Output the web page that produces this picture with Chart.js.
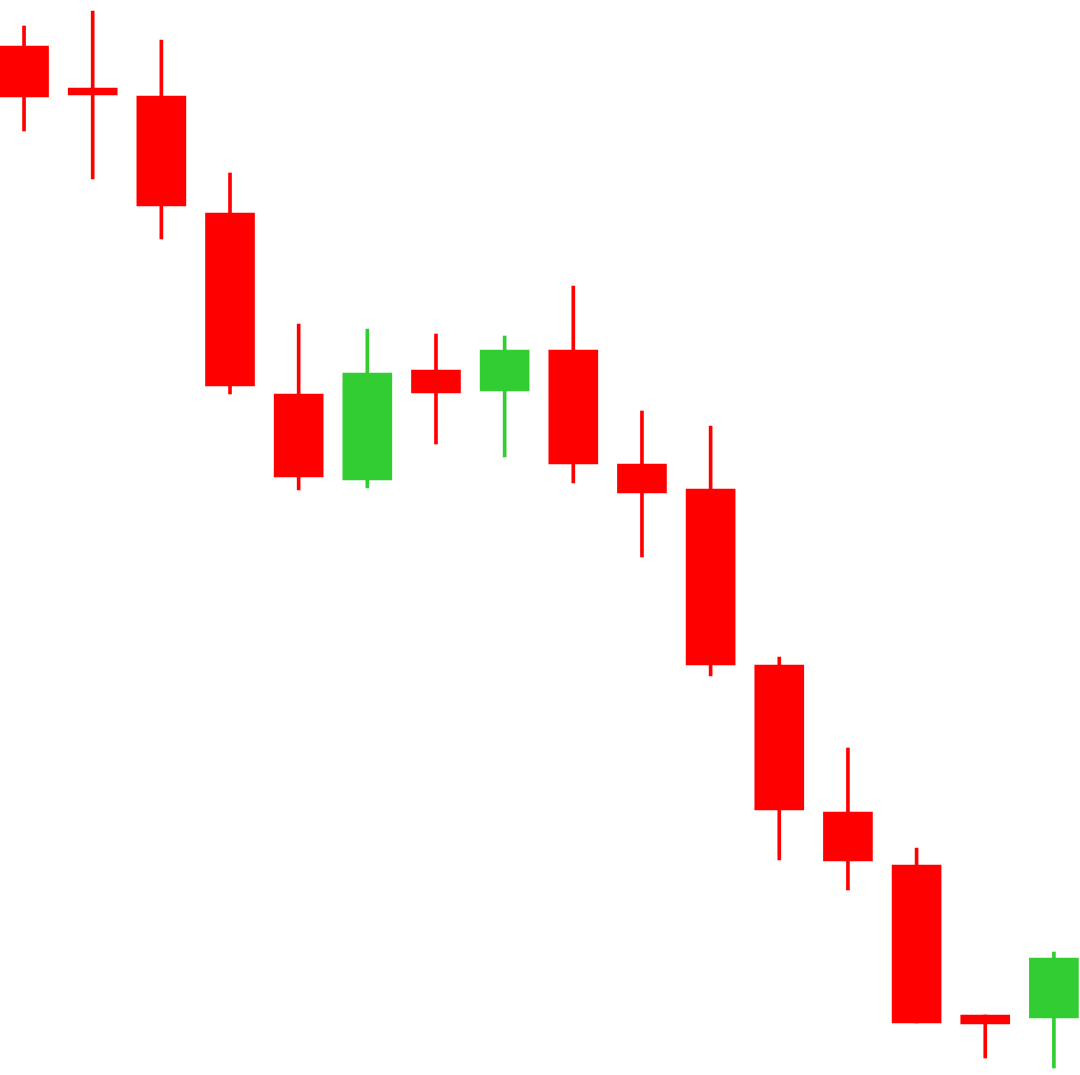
<!DOCTYPE html>
<html>
<head>
<meta charset="utf-8">
<script src="https://cdn.jsdelivr.net/npm/chart.js@4/dist/chart.umd.min.js"></script>
<style>
  html, body { margin: 0; padding: 0; background: #ffffff; }
  #wrap { width: 1080px; height: 1075px; }
</style>
</head>
<body>
<div id="wrap"><canvas id="candles"></canvas></div>
<script>
// OHLC values
const opens  = [1029, 987, 979, 862, 681, 595, 705, 684, 725, 611, 586, 410, 263, 210, 60, 57];
const highs  = [1049, 1064, 1035, 902, 751, 746, 741, 739, 789, 664, 649, 418, 327, 227, 60, 123];
const lows   = [944, 896, 836, 681, 585, 587, 631, 618, 592, 518, 399, 215, 185, 52, 17, 7];
const closes = [978, 980, 869, 689, 598, 702, 682, 725, 611, 582, 410, 265, 214, 52, 51, 117];

const UP = '#32CD32';
const DOWN = '#FF0000';

const colors = opens.map((o, i) => closes[i] >= o ? UP : DOWN);
const wicks = highs.map((h, i) => ({ x: i, y: [lows[i], h] }));
const bodies = opens.map((o, i) => ({ x: i, y: [Math.min(o, closes[i]), Math.max(o, closes[i])] }));

new Chart(document.getElementById('candles'), {
  type: 'bar',
  data: {
    datasets: [
      {
        label: 'wick',
        data: wicks,
        backgroundColor: colors,
        barThickness: 3,
        grouped: false
      },
      {
        label: 'body',
        data: bodies,
        backgroundColor: colors,
        barThickness: 49,
        grouped: false
      }
    ]
  },
  options: {
    responsive: true,
    maintainAspectRatio: false,
    animation: false,
    layout: { padding: 0 },
    plugins: {
      legend: { display: false },
      tooltip: { enabled: false }
    },
    scales: {
      x: { type: 'linear', min: -0.35, max: 15.38, offset: false, display: false },
      y: { type: 'linear', min: 0, max: 1075, display: false }
    }
  }
});
</script>
</body>
</html>
